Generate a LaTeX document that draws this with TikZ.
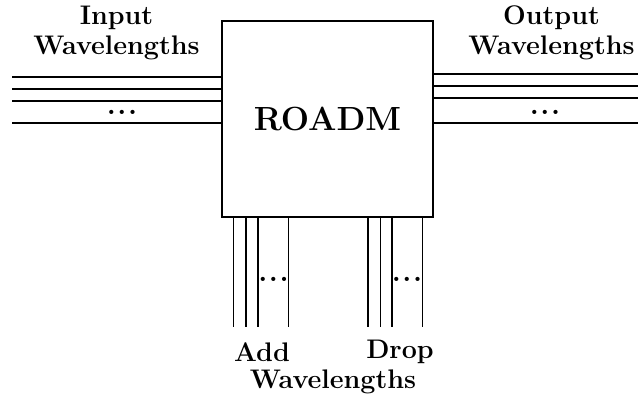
\documentclass[tikz,border=0pt]{standalone}
\usepackage{tikz}
\usetikzlibrary{positioning,calc}

\begin{document}
\begin{tikzpicture}[x=0.017cm, y=-0.017cm,
  wire/.style={line width=0.95pt},
  lbl/.style={font=\fontsize{13}{14.6}\selectfont\bfseries, align=center, inner sep=0pt, anchor=base},
  dotlbl/.style={font=\fontsize{14}{16}\selectfont\bfseries, inner sep=0pt, anchor=base}]
 \useasboundingbox (0,0) rectangle (638,398);
 \node[draw, line width=0.95pt, minimum width=211*0.017cm, minimum height=196*0.017cm, inner sep=0pt,
   font=\fontsize{16.2}{19}\selectfont\bfseries] (roadm) at (327.5,119) {ROADM};
 % input side
 \foreach \n/\y in {1/77.3,2/89,3/100.7,4/122.7} {
   \coordinate (in\n) at (12,\y);
   \draw[wire] (in\n) -- (in\n -| roadm.west);
 }
 % output side
 \foreach \n/\y in {1/74.3,2/86,3/97.7,4/122.7} {
   \coordinate (out\n) at (640,\y);
   \draw[wire] (out\n -| roadm.east) -- (out\n);
 }
 % add and drop fibres
 \foreach \n/\x in {1/233.5,2/246,3/258,4/288.5} {
   \coordinate (add\n) at (\x,327);
   \draw[wire] (add\n |- roadm.south) -- (add\n);
 }
 \foreach \n/\x in {1/368,2/380.5,3/392,4/422.5} {
   \coordinate (drop\n) at (\x,327);
   \draw[wire] (drop\n |- roadm.south) -- (drop\n);
 }
 \node[dotlbl] (indots) at (122,114.5) {.\kern0.8pt.\kern0.8pt.};
 \node[dotlbl] (outdots) at (545,114.5) {.\kern0.8pt.\kern0.8pt.};
 \node[dotlbl] (adddots) at (273.5,281.5) {.\kern0.8pt.\kern0.8pt.};
 \node[dotlbl] (dropdots) at (407,281.5) {.\kern0.8pt.\kern0.8pt.};
 \node[lbl] (inlbl) at (116.5,55) {Input\\Wavelengths};
 \node[lbl] (outlbl) at (551.5,55) {Output\\Wavelengths};
 \node[lbl] (addlbl) at (262,361.5) {Add};
 \node[lbl] (droplbl) at (400,358) {Drop};
 \node[lbl] (bottomlbl) at (333,388) {Wavelengths};
\end{tikzpicture}
\end{document}
